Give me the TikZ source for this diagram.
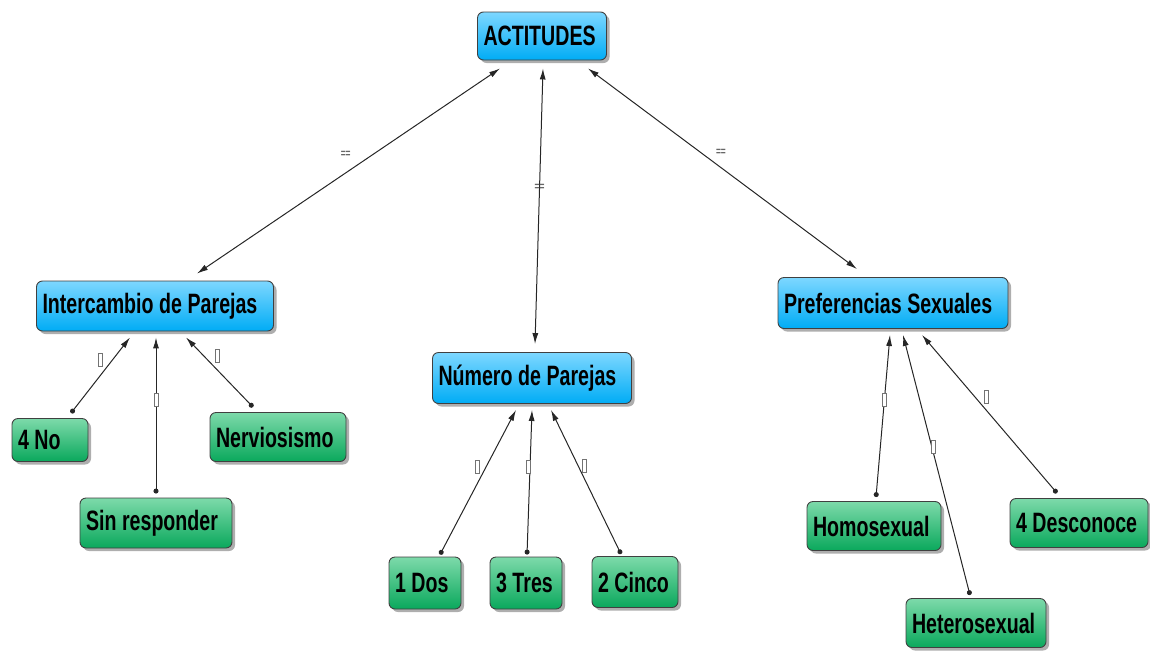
\documentclass[tikz,border=0pt]{standalone}
\usepackage{fontspec}
\setmainfont{Liberation Sans}[FakeStretch=0.70]
\usetikzlibrary{shadows,arrows.meta,calc}
\definecolor{bluetop}{RGB}{125,215,255}
\definecolor{bluebot}{RGB}{0,172,245}
\definecolor{greentop}{RGB}{125,218,170}
\definecolor{greenbot}{RGB}{10,168,92}
\tikzset{
  box/.style={rounded corners=6pt, draw=black!75, line width=0.9pt, inner ysep=0pt, inner xsep=6pt,
    align=left, font=\bfseries\fontsize{28}{28}\selectfont,
    execute at begin node={\spaceskip=5.6pt\relax},
    drop shadow={shadow xshift=3pt, shadow yshift=-3pt, opacity=0.45, fill=black!70}},
  concept/.style={box, top color=bluetop, bottom color=bluebot},
  leaf/.style={box, top color=greentop, bottom color=greenbot},
  sz/.style 2 args={text width=#1pt-12pt, minimum height=#2pt},
  link/.style={line width=1pt, black!85, {Circle[length=5pt]}-{Latex[length=11pt,width=6pt]}},
  toplink/.style={line width=1pt, black!85, {Latex[length=11pt,width=6pt]}-{Latex[length=11pt,width=6pt]}},
  eqlab/.style={font=\bfseries\fontsize{12}{12}\selectfont, text=black!60, inner sep=1pt},
  boxlab/.style={draw=black!55, fill=white, line width=0.7pt, minimum width=4pt, minimum height=13pt, inner sep=0pt}
}
\begin{document}
\begin{tikzpicture}[x=1pt,y=-1pt]
\useasboundingbox (0,0) rectangle (1150,651);
% nodes
\node[concept, sz={129}{48}] (act) at (542,36) {ACTITUDES};
\node[concept, sz={237}{50}] (int) at (155,306) {Intercambio de Parejas};
\node[concept, sz={199}{51}] (num) at (532,378) {Número de Parejas};
\node[concept, sz={230}{51}] (pref) at (893,303) {Preferencias Sexuales};
\node[leaf, sz={76}{43}] (no) at (50,440) {4 No};
\node[leaf, sz={136}{49}] (nerv) at (278,437) {Nerviosismo};
\node[leaf, sz={152}{50}] (sin) at (156,523) {Sin responder};
\node[leaf, sz={72}{52}] (dos) at (425,583) {1 Dos};
\node[leaf, sz={72}{52}] (tres) at (526,583) {3 Tres};
\node[leaf, sz={86}{51}] (cinco) at (635,582) {2 Cinco};
\node[leaf, sz={134}{49}] (homo) at (874,526) {Homosexual};
\node[leaf, sz={138}{49}] (desc) at (1079,523) {4 Desconoce};
\node[leaf, sz={140}{49}] (het) at (976,623) {Heterosexual};
% top-level links
\draw[toplink] ([xshift=-42pt,yshift=-8pt]act.south) -- ([xshift=42pt,yshift=7pt]int.north)
  node[eqlab, pos=0.42, xshift=-27pt] (l1) {==};
\draw[toplink] ([xshift=1pt,yshift=-8pt]act.south) -- ([xshift=3pt,yshift=8pt]num.north)
  node[eqlab, pos=0.43] (l2) {==};
\draw[toplink] ([xshift=46pt,yshift=-8pt]act.south) -- ([xshift=-36pt,yshift=8pt]pref.north)
  node[eqlab, pos=0.42, xshift=20pt] (l3) {==};
% Intercambio
\draw[link] ([xshift=21pt,yshift=5pt]no.north) -- ([xshift=-25pt,yshift=-6pt]int.south)
  node[boxlab, pos=0.70, xshift=-12pt] (b1) {};
\draw[link] ([xshift=0pt,yshift=4pt]sin.north) -- ([xshift=1pt,yshift=-6pt]int.south)
  node[boxlab, pos=0.60] (b2) {};
\draw[link] ([xshift=-25pt,yshift=5pt]nerv.north) -- ([xshift=31pt,yshift=-6pt]int.south)
  node[boxlab, pos=0.73, xshift=13pt] (b3) {};
% Numero
\draw[link] ([xshift=15pt,yshift=2pt]dos.north) -- ([xshift=-16pt,yshift=-6pt]num.south)
  node[boxlab, pos=0.61, xshift=-9pt] (b4) {};
\draw[link] ([xshift=1pt,yshift=2pt]tres.north) -- ([xshift=0pt,yshift=-6pt]num.south)
  node[boxlab, pos=0.61, xshift=-2pt] (b5) {};
\draw[link] ([xshift=-14pt,yshift=2pt]cinco.north) -- ([xshift=19pt,yshift=-6pt]num.south)
  node[boxlab, pos=0.61, xshift=6pt] (b6) {};
% Preferencias
\draw[link] ([xshift=2pt,yshift=4pt]homo.north) -- ([xshift=-3pt,yshift=-6pt]pref.south)
  node[boxlab, pos=0.60] (b7) {};
\draw[link] ([xshift=-6pt,yshift=3pt]het.north) -- ([xshift=10pt,yshift=-6pt]pref.south)
  node[boxlab, pos=0.57, xshift=2pt] (b8) {};
\draw[link] ([xshift=-22pt,yshift=5pt]desc.north) -- ([xshift=29pt,yshift=-6pt]pref.south)
  node[boxlab, pos=0.61, xshift=12pt] (b9) {};
\end{tikzpicture}
\end{document}
